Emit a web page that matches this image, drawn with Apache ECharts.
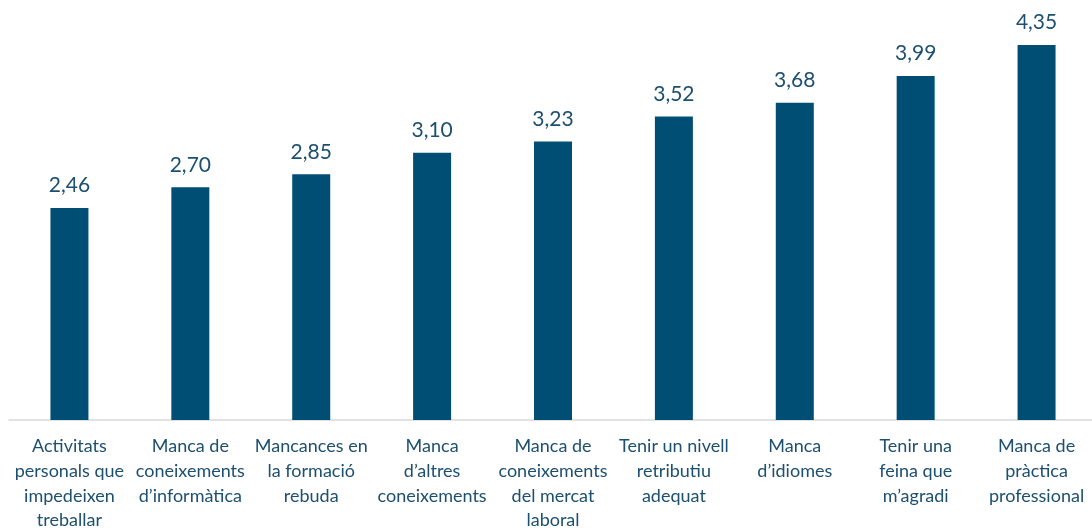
<!DOCTYPE html>
<html>
<head>
<meta charset="utf-8">
<script src="https://cdn.jsdelivr.net/npm/echarts@6/dist/echarts.min.js"></script>
<style>
  html, body { margin: 0; padding: 0; background: #fff; }
  #chart { width: 1092px; height: 530px; }
</style>
</head>
<body>
<div id="chart"></div>
<script>
const categories = [
  "Activitats\npersonals que\nimpedeixen\ntreballar",
  "Manca de\nconeixements\nd\u2019informàtica",
  "Mancances en\nla formació\nrebuda",
  "Manca\nd\u2019altres\nconeixements",
  "Manca de\nconeixements\ndel mercat\nlaboral",
  "Tenir un nivell\nretributiu\nadequat",
  "Manca\nd\u2019idiomes",
  "Tenir una\nfeina que\nm\u2019agradi",
  "Manca de\npràctica\nprofessional"
];
const values = [2.46, 2.70, 2.85, 3.10, 3.23, 3.52, 3.68, 3.99, 4.35];

const barColor = "#004e74";
const textColor = "#1c4f70";

const chart = echarts.init(document.getElementById("chart"));
chart.setOption({
  animation: false,
  grid: { left: 9, width: 1088, top: 45, bottom: 110, outerBoundsMode: "none", containLabel: false },
  xAxis: {
    type: "category",
    data: categories,
    axisTick: { show: false },
    axisLine: { lineStyle: { color: "#d9d9d9", width: 1.5 } },
    axisLabel: {
      interval: 0,
      margin: 14,
      color: textColor,
      fontFamily: "Lato",
      fontSize: 18,
      lineHeight: 24.7
    }
  },
  yAxis: {
    type: "value",
    min: 0,
    max: Math.max(...values),
    show: false,
    splitLine: { show: false }
  },
  series: [{
    type: "bar",
    data: values,
    barWidth: 38,
    itemStyle: { color: barColor },
    label: {
      show: true,
      position: "top",
      distance: 12,
      color: textColor,
      fontFamily: "Lato",
      fontSize: 21,
      formatter: p => p.value.toFixed(2).replace(".", ",")
    }
  }]
});
</script>
</body>
</html>
